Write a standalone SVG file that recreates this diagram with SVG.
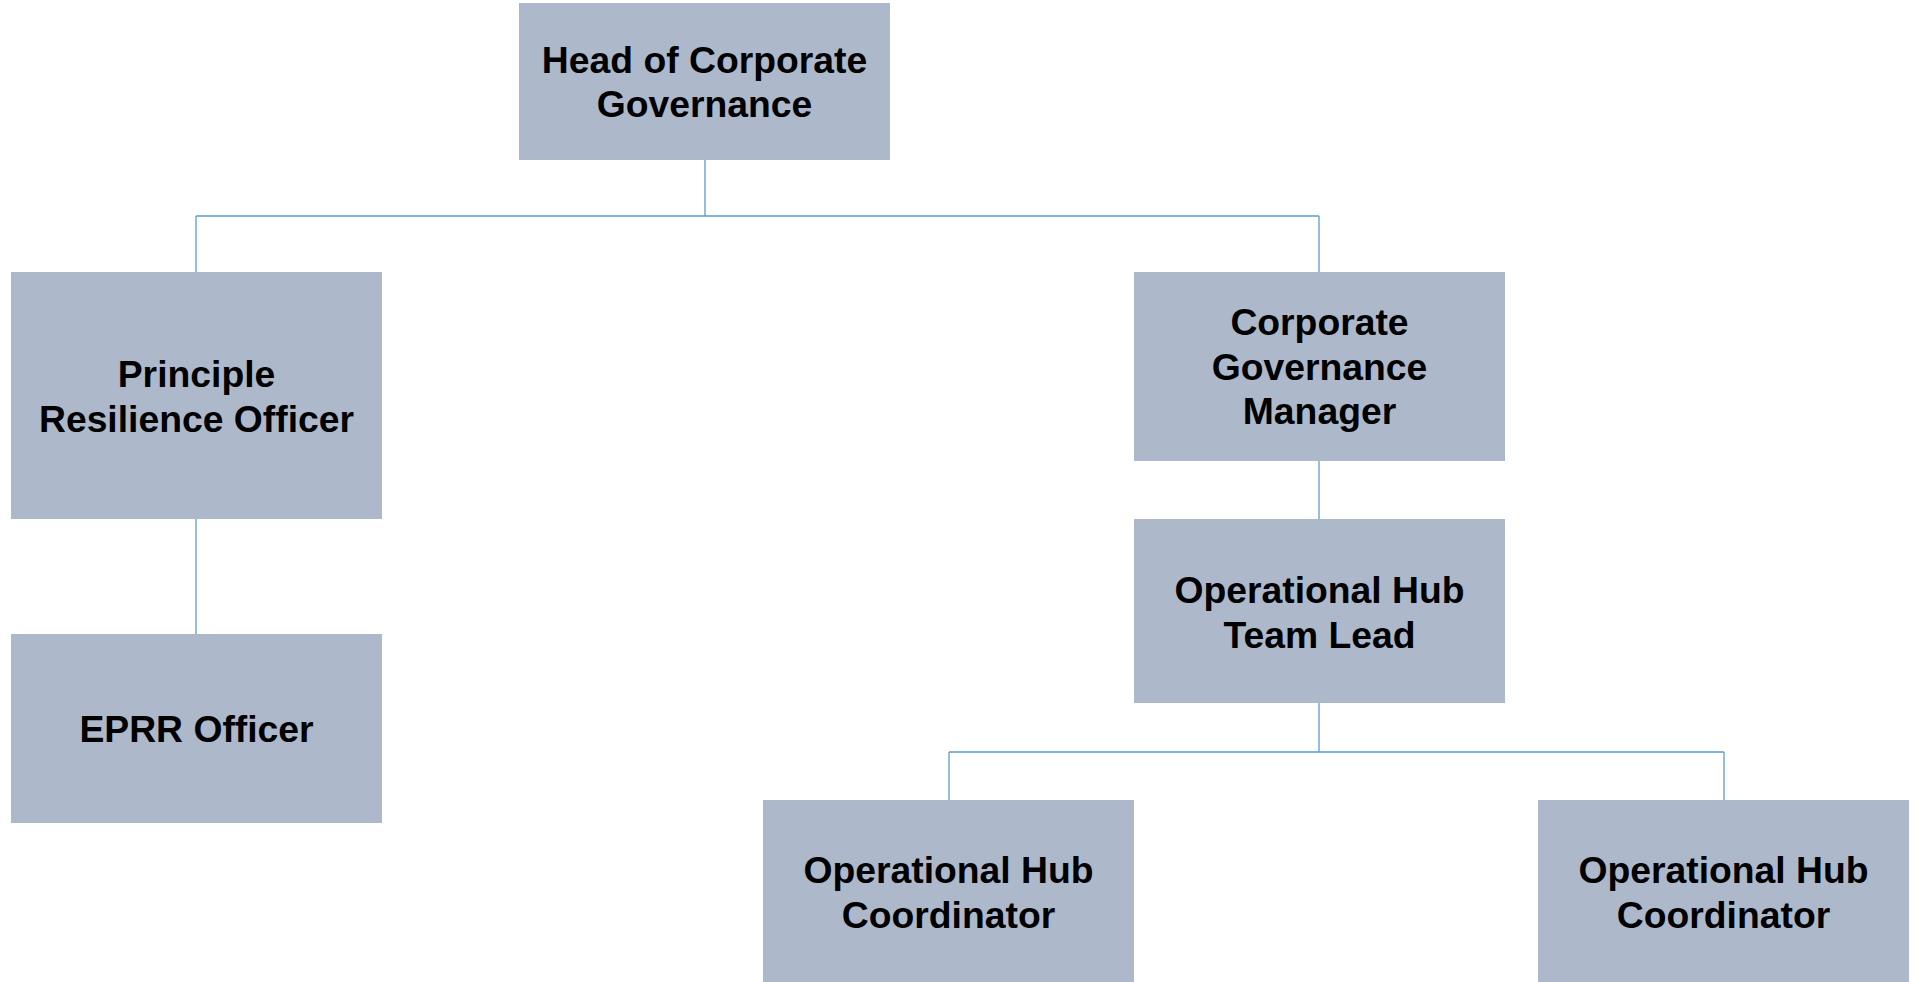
<svg xmlns="http://www.w3.org/2000/svg" width="1921" height="982" viewBox="0 0 1921 982">
<style>
.box{fill:#ADB9CA;}
.t{font-family:"Liberation Sans",Arial,sans-serif;font-weight:bold;font-size:37.3px;fill:#000;text-anchor:middle;}
.c{fill:none;stroke:#5B9BD5;stroke-width:1.3;}
</style>
<rect width="1921" height="982" fill="#fff"/>
<g id="connectors">
<path class="c" d="M705,160 V216 M196,216 H1319 M196,216 V272 M1319,216 V272"/>
<path class="c" d="M196,519 V634"/>
<path class="c" d="M1319,461 V519"/>
<path class="c" d="M1319,703 V752 M949,752 H1724 M949,752 V800 M1724,752 V800"/>
</g>
<g id="head">
<rect class="box" x="519" y="3" width="371" height="157"/>
<text class="t" x="704.5" y="73">Head of Corporate</text>
<text class="t" x="704.5" y="117">Governance</text>
</g>
<g id="principle">
<rect class="box" x="11" y="272" width="371" height="247"/>
<text class="t" x="196.5" y="387">Principle</text>
<text class="t" x="196.5" y="432">Resilience Officer</text>
</g>
<g id="eprr">
<rect class="box" x="11" y="634" width="371" height="189"/>
<text class="t" x="196.5" y="742">EPRR Officer</text>
</g>
<g id="cgm">
<rect class="box" x="1134" y="272" width="371" height="189"/>
<text class="t" x="1319.5" y="335">Corporate</text>
<text class="t" x="1319.5" y="380">Governance</text>
<text class="t" x="1319.5" y="424">Manager</text>
</g>
<g id="teamlead">
<rect class="box" x="1134" y="519" width="371" height="184"/>
<text class="t" x="1319.5" y="603">Operational Hub</text>
<text class="t" x="1319.5" y="648">Team Lead</text>
</g>
<g id="coord1">
<rect class="box" x="763" y="800" width="371" height="184"/>
<text class="t" x="948.5" y="883">Operational Hub</text>
<text class="t" x="948.5" y="928">Coordinator</text>
</g>
<g id="coord2">
<rect class="box" x="1538" y="800" width="371" height="184"/>
<text class="t" x="1723.5" y="883">Operational Hub</text>
<text class="t" x="1723.5" y="928">Coordinator</text>
</g>
</svg>
